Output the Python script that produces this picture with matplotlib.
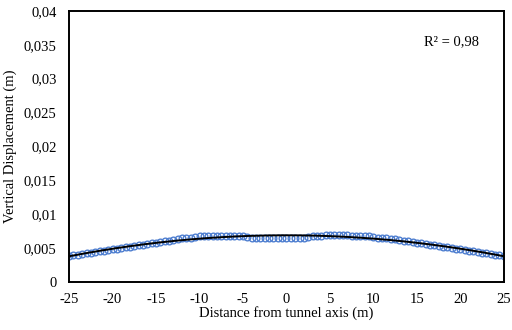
import numpy as np
import matplotlib
matplotlib.use("Agg")
import matplotlib.pyplot as plt
from matplotlib.ticker import FuncFormatter

plt.rcParams['font.family'] = ['Liberation Serif', 'DejaVu Serif']

distance = np.arange(-25, 25.01, 0.5)
displacement = [
    0.0038, 0.0039, 0.0040, 0.0041, 0.0042, 0.0043, 0.0044, 0.0045, 0.0046, 0.0047,
    0.0048, 0.0049, 0.0050, 0.0051, 0.0052, 0.0053, 0.0054, 0.0055, 0.0056, 0.0057,
    0.0058, 0.0059, 0.0060, 0.0061, 0.0062, 0.0063, 0.0064, 0.0065, 0.0065, 0.0066,
    0.0067, 0.0067, 0.0068, 0.0068, 0.0068, 0.0068, 0.0068, 0.0068, 0.0068, 0.0067,
    0.0067, 0.0066, 0.0065, 0.0065, 0.0064, 0.0064, 0.0064, 0.0064, 0.0064, 0.0064,
    0.0064, 0.0064, 0.0064, 0.0064, 0.0065, 0.0066, 0.0067, 0.0068, 0.0068, 0.0069,
    0.0069, 0.0069, 0.0069, 0.0069, 0.0069, 0.0068, 0.0068, 0.0068, 0.0067, 0.0067,
    0.0066, 0.0065, 0.0065, 0.0064, 0.0063, 0.0063, 0.0062, 0.0061, 0.0060, 0.0059,
    0.0058, 0.0057, 0.0056, 0.0055, 0.0054, 0.0053, 0.0052, 0.0051, 0.0050, 0.0049,
    0.0048, 0.0047, 0.0046, 0.0045, 0.0044, 0.0043, 0.0042, 0.0041, 0.0040, 0.0039,
    0.0038,
]
r2_label = "R² = 0,98"
x_ticks = [-25, -20, -15, -10, -5, 0, 5, 10, 15, 20, 25]
y_ticks = [0, 0.005, 0.01, 0.015, 0.02, 0.025, 0.03, 0.035, 0.04]

fig = plt.figure(figsize=(5.12, 3.30), dpi=100)
ax = fig.add_axes([0.135, 0.146, 0.849, 0.821])

ax.plot(distance, displacement, linestyle='none', marker='o', markersize=4.8,
        markerfacecolor='none', markeredgecolor='#4f7fd0', markeredgewidth=1.0)

coef = np.polyfit(distance, displacement, 2)
xf = np.linspace(-25, 25, 200)
ax.plot(xf, np.polyval(coef, xf), color='black', linewidth=1.4)

ax.set_xlim(-25, 25)
ax.set_ylim(0, 0.04)
ax.set_xticks(x_ticks)
ax.set_yticks(y_ticks)
ax.xaxis.set_major_formatter(FuncFormatter(lambda v, p: f"{v:g}".replace('.', ',')))
ax.yaxis.set_major_formatter(FuncFormatter(lambda v, p: ("%g" % round(v, 4)).replace('.', ',')))
ax.tick_params(length=0, labelsize=10.5)
ax.tick_params(axis='x', pad=8)
ax.tick_params(axis='y', pad=9)
for s in ax.spines.values():
    s.set_linewidth(1.4)

ax.set_xlabel("Distance from tunnel axis (m)", fontsize=10.5, labelpad=0)
ax.set_ylabel("Vertical Displacement (m)", fontsize=10.5, labelpad=5)
ax.text(0.88, 0.885, r2_label, transform=ax.transAxes, fontsize=10.5,
        ha='center', va='center')

fig.savefig("out.png", dpi=100)
